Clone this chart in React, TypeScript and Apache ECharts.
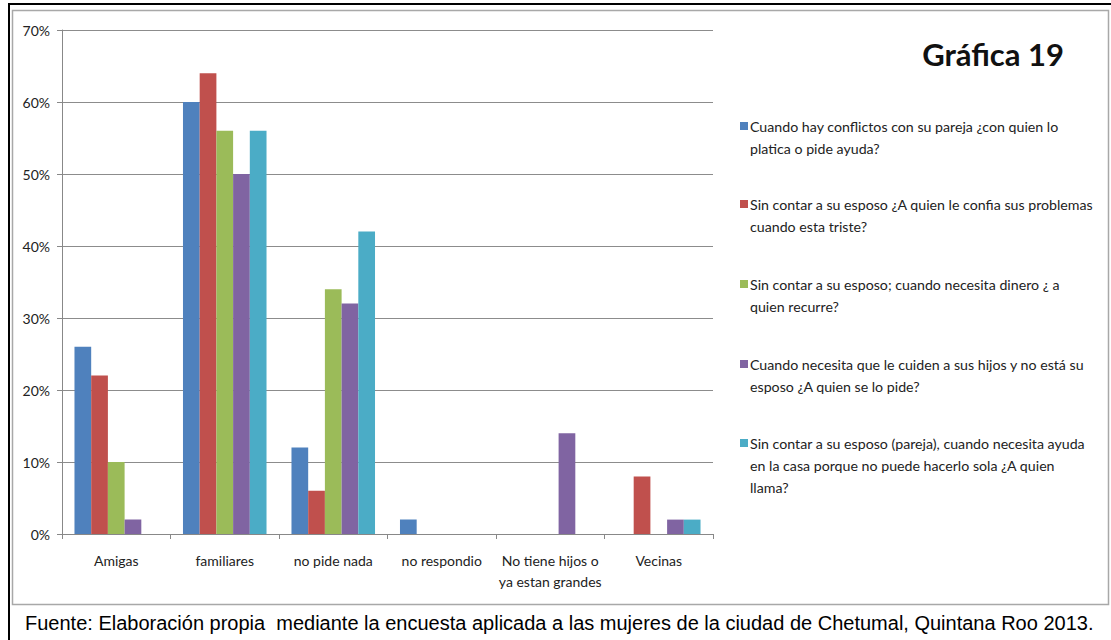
import React, { useEffect, useRef } from "react";
import * as echarts from "echarts";

const categories = [
  "Amigas",
  "familiares",
  "no pide nada",
  "no respondio",
  "No tiene hijos o\nya estan grandes",
  "Vecinas",
];

const legendLabels = [
  "Cuando hay conflictos con su pareja ¿con quien lo\nplatica o pide ayuda?",
  "Sin contar a su esposo ¿A quien le confia sus problemas\ncuando esta triste?",
  "Sin contar a su esposo; cuando necesita dinero ¿ a\nquien recurre?",
  "Cuando necesita que le cuiden a sus hijos y no está su\nesposo ¿A quien se lo pide?",
  "Sin contar a su esposo (pareja), cuando necesita ayuda\nen la casa porque no puede hacerlo sola ¿A quien\nllama?",
];

const conflictosPareja = [26, 60, 12, 2, 0, 0];
const confiaProblemas = [22, 64, 6, 0, 0, 8];
const necesitaDinero = [10, 56, 34, 0, 0, 0];
const cuidanHijos = [2, 50, 32, 0, 14, 2];
const ayudaCasa = [0, 56, 42, 0, 0, 2];

const seriesValues = [conflictosPareja, confiaProblemas, necesitaDinero, cuidanHijos, ayudaCasa];
const colors = ["#4F81BD", "#C0504D", "#9BBB59", "#8064A2", "#4BACC6"];

const yTicks = [0, 10, 20, 30, 40, 50, 60, 70];

const titleText = "Gráfica 19";
const footerText =
  "Fuente: Elaboración propia  mediante la encuesta aplicada a las mujeres de la ciudad de Chetumal, Quintana Roo 2013.";

const FONT = "Lato, 'Open Sans', sans-serif";

export default function App() {
  const ref = useRef<HTMLDivElement>(null);
  useEffect(() => {
    if (!ref.current) return;
    const chart = echarts.init(ref.current, undefined, { renderer: "svg" });

    const legendTops = [126, 204, 284, 364, 443];
    const legendGraphics: any[] = [];
    legendLabels.forEach((lbl, i) => {
      legendGraphics.push({
        type: "rect",
        shape: { x: 740, y: legendTops[i] - 4, width: 8, height: 8 },
        style: { fill: colors[i] },
        silent: true,
      });
      legendGraphics.push({
        type: "text",
        x: 750,
        y: legendTops[i] - 11,
        style: {
          text: lbl,
          font: `14.2px ${FONT}`,
          fill: "#222",
          lineHeight: 22,
          verticalAlign: "top",
          align: "left",
        },
        silent: true,
      });
    });

    chart.setOption({
      animation: false,
      backgroundColor: "#ffffff",
      textStyle: { fontFamily: FONT },
      title: {
        text: titleText,
        right: 42,
        top: 33,
        textStyle: { fontSize: 31, fontWeight: "bold", color: "#111", fontFamily: FONT },
      },
      grid: { left: 62, right: 398, top: 30, bottom: 106 },
      xAxis: {
        type: "category",
        data: categories,
        axisLine: { lineStyle: { color: "#888", width: 1 } },
        axisTick: { show: true, length: 5, lineStyle: { color: "#888" } },
        axisLabel: {
          color: "#222",
          fontSize: 14,
          margin: 16,
          lineHeight: 21,
          interval: 0,
          fontFamily: FONT,
        },
      },
      yAxis: {
        type: "value",
        min: yTicks[0],
        max: yTicks[yTicks.length - 1],
        interval: 10,
        axisLine: { show: true, lineStyle: { color: "#888" } },
        axisTick: { show: true, length: 5, lineStyle: { color: "#888" } },
        axisLabel: { color: "#222", fontSize: 14, margin: 12, formatter: "{value}%", fontFamily: FONT },
        splitLine: { show: true, lineStyle: { color: "#8c8c8c", width: 1 } },
      },
      series: seriesValues.map((vals, i) => ({
        type: "bar",
        name: legendLabels[i].replace(/\n/g, " "),
        data: vals,
        barGap: "0%",
        barCategoryGap: "23%",
        itemStyle: { color: colors[i] },
      })),
      graphic: [
        {
          type: "rect",
          shape: { x: 12.5, y: 10.5, width: 1096, height: 594 },
          style: { fill: "none", stroke: "#a8a8a8", lineWidth: 1.5 },
          silent: true,
          z: -1,
        },
        {
          type: "rect",
          shape: { x: 9, y: 4, width: 1120, height: 660 },
          style: { fill: "none", stroke: "#000", lineWidth: 2 },
          silent: true,
        },
        ...legendGraphics,
        {
          type: "text",
          x: 25,
          y: 623,
          style: {
            text: footerText,
            font: "20px 'Liberation Sans', Arial, sans-serif",
            fill: "#000",
            verticalAlign: "middle",
            align: "left",
          },
          silent: true,
        },
      ],
    });
    return () => chart.dispose();
  }, []);
  return (
    <div
      ref={ref}
      style={{ position: "fixed", left: 0, top: 0, width: 1111, height: 640, background: "#fff" }}
    />
  );
}
